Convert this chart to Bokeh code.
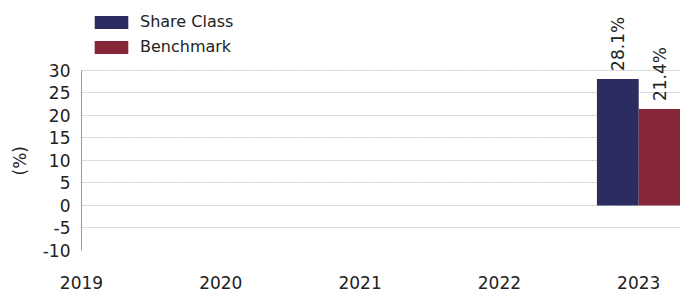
import math
from bokeh.plotting import figure
from bokeh.models import (ColumnDataSource, Range1d, FixedTicker, Legend, LegendItem, Title)
from bokeh.transform import dodge
from bokeh.core.properties import value
from bokeh.embed import file_html
from bokeh.resources import INLINE

years = ["2019", "2020", "2021", "2022", "2023"]
share_class = [float("nan"), float("nan"), float("nan"), float("nan"), 28.1]
benchmark = [float("nan"), float("nan"), float("nan"), float("nan"), 21.4]
y_ticks = [-10, -5, 0, 5, 10, 15, 20, 25, 30]
series_names = ["Share Class", "Benchmark"]
y_title = "(%)"

SHARE_COLOR = "#2B2C5F"
BENCH_COLOR = "#872638"
FONT = "DejaVu Sans"
TXT = "#222222"

xs = list(range(len(years)))
src = ColumnDataSource(dict(x=xs, share=share_class, bench=benchmark))

p = figure(width=680, height=295, output_backend="svg", toolbar_location=None,
           x_range=Range1d(0, 4.3), y_range=Range1d(-13.33, 45.5),
           min_border_left=81, min_border_right=0, min_border_top=0, min_border_bottom=30)
p.outline_line_color = None
p.background_fill_color = "white"

r1 = p.vbar(x=dodge("x", -0.15), top="share", bottom=0, width=0.3, source=src,
            fill_color=SHARE_COLOR, line_color=None)
r2 = p.vbar(x=dodge("x", 0.15), top="bench", bottom=0, width=0.3, source=src,
            fill_color=BENCH_COLOR, line_color=None)

# value labels
lx, ly, lt = [], [], []
for i, v in enumerate(share_class):
    if not math.isnan(v):
        lx.append(i - 0.15); ly.append(v); lt.append(f"{v:.1f}%")
for i, v in enumerate(benchmark):
    if not math.isnan(v):
        lx.append(i + 0.15); ly.append(v); lt.append(f"{v:.1f}%")
lsrc = ColumnDataSource(dict(x=lx, y=ly, t=lt))
p.text(x="x", y="y", text="t", source=lsrc, angle=math.pi / 2,
       text_align="left", text_baseline="middle", y_offset=-8,
       text_font=value(FONT), text_font_size="17px", text_color=TXT)

# axes
p.yaxis.ticker = FixedTicker(ticks=y_ticks)
p.yaxis.major_label_overrides = {t: str(t) for t in y_ticks}
p.yaxis.bounds = (min(y_ticks), max(y_ticks))
p.yaxis.axis_line_color = "#999999"
p.yaxis.major_tick_line_color = None
p.yaxis.major_tick_out = 0
p.yaxis.major_tick_in = 0
p.yaxis.minor_tick_line_color = None
p.yaxis.major_label_text_font = FONT
p.yaxis.major_label_text_font_size = "17px"
p.yaxis.major_label_text_color = TXT
p.yaxis.major_label_standoff = 11

p.xaxis.ticker = FixedTicker(ticks=xs)
p.xaxis.major_label_overrides = {i: y for i, y in enumerate(years)}
p.xaxis.axis_line_color = None
p.xaxis.major_tick_line_color = None
p.xaxis.major_tick_out = 0
p.xaxis.major_tick_in = 0
p.xaxis.minor_tick_line_color = None
p.xaxis.major_label_text_font = FONT
p.xaxis.major_label_text_font_size = "17px"
p.xaxis.major_label_text_color = TXT
p.xaxis.major_label_standoff = 10

# y-axis title, placed beside the axis extent (-10..30)
p.add_layout(Title(text=y_title, align="left", vertical_align="middle", offset=90,
                   text_font=FONT, text_font_size="17px", text_font_style="normal",
                   text_color=TXT, standoff=17), "left")

p.xgrid.grid_line_color = None
p.ygrid.ticker = FixedTicker(ticks=[t for t in y_ticks if t > min(y_ticks)])
p.ygrid.grid_line_color = "#c8c8c8"
p.ygrid.grid_line_dash = "2 1"
p.ygrid.grid_line_width = 1

legend = Legend(items=[LegendItem(label=series_names[0], renderers=[r1]),
                       LegendItem(label=series_names[1], renderers=[r2])],
                location=(9, 209), orientation="vertical",
                glyph_width=42, glyph_height=16, label_standoff=8,
                label_text_font=FONT, label_text_font_size="16px",
                label_text_color=TXT, spacing=6, padding=0, margin=0,
                border_line_color=None, background_fill_alpha=0)
p.add_layout(legend)

open("out.html", "w").write(file_html(p, INLINE))
